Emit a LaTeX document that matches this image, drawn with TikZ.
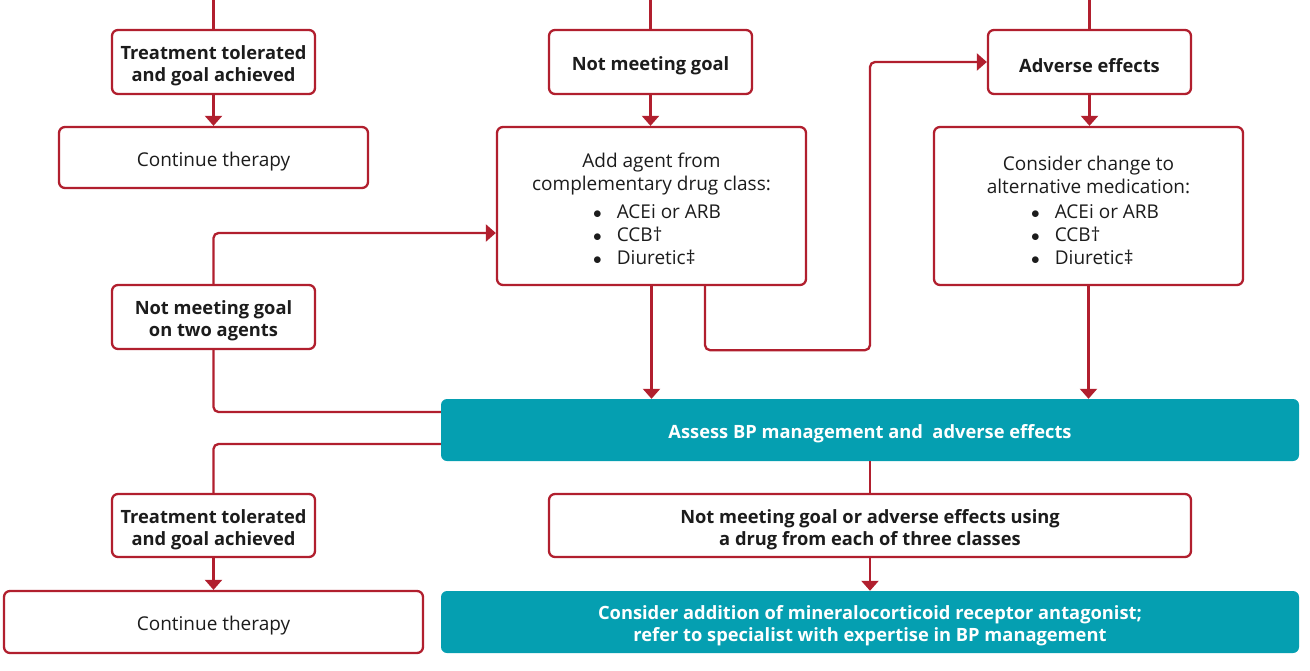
\documentclass[tikz,border=0pt]{standalone}
\usepackage{fontspec}
\setmainfont{Open Sans}
\usetikzlibrary{arrows.meta}
\definecolor{brd}{HTML}{B11F2E}
\definecolor{teal2}{HTML}{059FB1}
\definecolor{ink}{HTML}{1C1C1C}
\newcommand{\bul}{$\bullet$\hspace{15pt}}
\begin{document}
\begin{tikzpicture}[x=1pt,y=-1pt,
  rbox/.style={draw=brd, line width=2.3pt, rounded corners=6pt, fill=white, inner sep=0pt},
  tbox/.style={fill=teal2, rounded corners=6pt, inner sep=0pt},
  reg/.style={inner sep=0pt, align=center, text=ink, font=\fontsize{19}{23}\selectfont},
  bld/.style={inner sep=0pt, align=center, text=ink, font=\bfseries\fontsize{18.3}{22}\selectfont},
  wbld/.style={bld, text=white},
  conn/.style={draw=brd, line width=2.3pt, rounded corners=5pt},
  arr/.style={conn, -{Triangle[width=17pt,length=10pt]}}
]
\useasboundingbox (0,0) rectangle (1310,670);

% boxes
\node[rbox, minimum width=203pt, minimum height=64pt] (a1) at (213.5,62) {};
\node[rbox, minimum width=309pt, minimum height=61pt] (ct1) at (213.5,157.5) {};
\node[rbox, minimum width=203pt, minimum height=64pt] (nmg) at (650.5,62) {};
\node[rbox, minimum width=309pt, minimum height=158pt] (add) at (651.5,206) {};
\node[rbox, minimum width=203pt, minimum height=64pt] (ae) at (1089.5,62) {};
\node[rbox, minimum width=309pt, minimum height=158pt] (cc) at (1088.5,206) {};
\node[rbox, minimum width=203pt, minimum height=64pt] (nmg2) at (213.5,317) {};
\node[tbox, minimum width=858pt, minimum height=62pt] (assess) at (870,430) {};
\node[rbox, minimum width=203pt, minimum height=63pt] (tt2) at (213.5,525.5) {};
\node[rbox, minimum width=419pt, minimum height=62pt] (ct2) at (213.5,622) {};
\node[rbox, minimum width=642pt, minimum height=63pt] (nmg3) at (870,525.5) {};
\node[tbox, minimum width=858pt, minimum height=62pt] (ca) at (870,622) {};

% texts
\node[bld] (a1t) at ([yshift=-4pt]a1.center) {Treatment tolerated\\and goal achieved};
\node[reg] (ct1t) at ([yshift=-4pt]ct1.center) {Continue therapy};
\node[bld] (nmgt) at ([yshift=-4pt]nmg.center) {Not meeting goal};
\node[bld] (aet) at ([yshift=-4pt]ae.center) {Adverse effects};
\node[bld] (nmg2t) at ([yshift=-4pt]nmg2.center) {Not meeting goal\\on two agents};
\node[wbld] (assesst) at ([yshift=-4pt]assess.center) {Assess BP management and~ adverse effects};
\node[bld] (tt2t) at ([yshift=-4pt]tt2.center) {Treatment tolerated\\and goal achieved};
\node[reg] (ct2t) at ([yshift=-4pt]ct2.center) {Continue therapy};
\node[bld] (nmg3t) at ([yshift=-4pt]nmg3.center) {Not meeting goal or adverse effects using\\a drug from each of three classes};
\node[wbld] (cat) at ([yshift=-4pt]ca.center) {Consider addition of mineralocorticoid receptor antagonist;\\refer to specialist with expertise in BP management};

\node[reg] (addt) at (651.5,174.5) {Add agent from\\complementary drug class:};
\node[reg, align=left, anchor=west] (addb) at (593,235) {\bul ACEi or ARB\\\bul CCB†\\\bul Diuretic‡};
\node[reg] (cct) at (1088.5,174.5) {Consider change to\\alternative medication:};
\node[reg, align=left, anchor=west] (ccb) at (1031,235) {\bul ACEi or ARB\\\bul CCB†\\\bul Diuretic‡};

% incoming lines from top
\coordinate (top1) at (213.5,0);
\coordinate (top2) at (650.5,0);
\coordinate (top3) at (1089.5,0);
\draw[conn] (top1) -- (a1.north);
\draw[conn] (top2) -- (nmg.north);
\draw[conn] (top3) -- (ae.north);

% connectors
\draw[arr] (a1.south) -- (ct1.north);
\draw[arr] (nmg.south) -- (nmg.south |- add.north);
\draw[arr] (ae.south) -- (ae.south |- cc.north);
\draw[arr] (nmg2.north) |- ([yshift=-27pt]add.west);
\draw[conn] (nmg2.south) |- ([yshift=18pt]assess.west);
\draw[arr] (add.south) -- (add.south |- assess.north);
\draw[arr] ([xshift=53.5pt]add.south) -- ++(0,64) -- ++(165,0) |- (ae.west);
\draw[arr] (cc.south) -- (cc.south |- assess.north);
\draw[conn] ([yshift=-14pt]assess.west) -| (tt2.north);
\draw[arr] (tt2.south) -- (ct2.north);
\draw[conn] (assess.south) -- (nmg3.north);
\draw[arr] (nmg3.south) -- (ca.north);
\end{tikzpicture}
\end{document}
